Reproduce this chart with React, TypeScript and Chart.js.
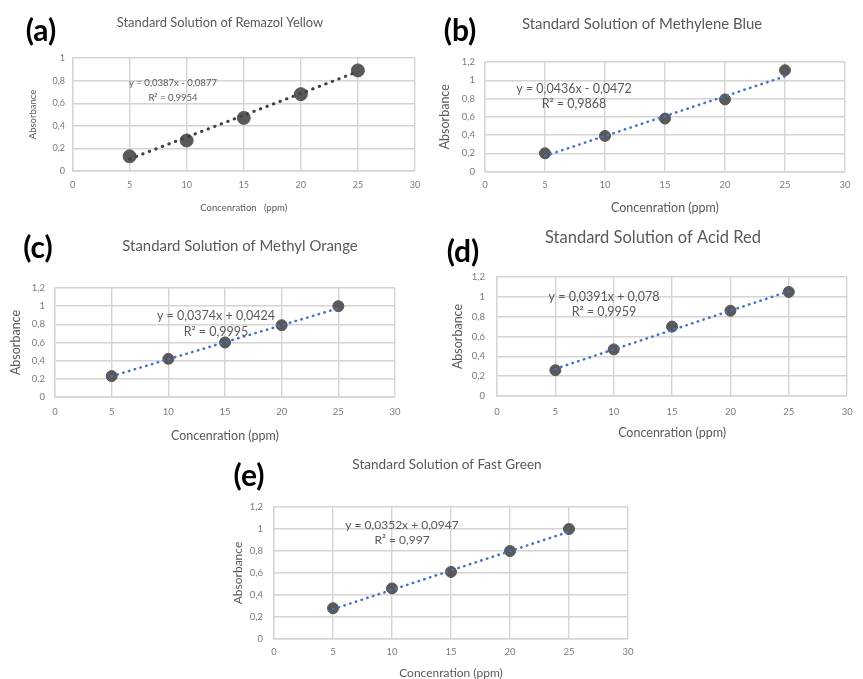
import { useEffect, useRef } from 'react';
import { Chart, registerables } from 'chart.js';

Chart.register(...registerables);

// ---------- data ----------
const CONCENTRATION = [5, 10, 15, 20, 25];
const X_TICKS = [0, 5, 10, 15, 20, 25, 30];
const Y_TICKS_10 = [0, 0.2, 0.4, 0.6, 0.8, 1];
const Y_TICKS_12 = [0, 0.2, 0.4, 0.6, 0.8, 1, 1.2];

const ABS_REMAZOL_YELLOW = [0.13, 0.27, 0.47, 0.68, 0.89];
const ABS_METHYLENE_BLUE = [0.2, 0.39, 0.58, 0.79, 1.11];
const ABS_METHYL_ORANGE = [0.23, 0.42, 0.6, 0.79, 1.0];
const ABS_ACID_RED = [0.26, 0.47, 0.7, 0.86, 1.05];
const ABS_FAST_GREEN = [0.28, 0.46, 0.61, 0.8, 1.0];

// trend line end values (at 5 ppm and 25 ppm)
const TREND_X = [5, 25];
const TREND_REMAZOL_YELLOW = [0.106, 0.88];
const TREND_METHYLENE_BLUE = [0.171, 1.043];
const TREND_METHYL_ORANGE = [0.229, 0.977];
const TREND_ACID_RED = [0.274, 1.056];
const TREND_FAST_GREEN = [0.271, 0.975];

const LABELS = ['(a)', '(b)', '(c)', '(d)', '(e)'];
const TITLES = [
  'Standard Solution of Remazol Yellow',
  'Standard Solution of Methylene Blue',
  'Standard Solution of Methyl Orange',
  'Standard Solution of Acid Red',
  'Standard Solution of Fast Green',
];
const EQUATIONS = [
  'y = 0,0387x - 0,0877',
  'y = 0,0436x - 0,0472',
  'y = 0,0374x + 0,0424',
  'y = 0,0391x + 0,078',
  'y = 0,0352x + 0,0947',
];
const R_SQUARED = ['R² = 0,9954', 'R² = 0,9868', 'R² = 0,9995', 'R² = 0,9959', 'R² = 0,997'];
const X_TITLES = ['Concenration   (ppm)', 'Concenration (ppm)', 'Concenration (ppm)', 'Concenration (ppm)', 'Concenration (ppm)'];
const Y_TITLE = 'Absorbance';

// ---------- styles / layout ----------
const W = 863;
const H = 679;
const FONT = 'Lato, "Open Sans", sans-serif';
const GRID = '#d4d4d4';
const TEXT = '#595959';
const TICK_TEXT = '#7a7a7a';
const POINT = '#595959';

type Layout = {
  L: number; T: number; R: number; B: number;
  labelX: number; labelY: number; labelSize: number;
  titleX: number; titleY: number; titleSize: number;
  tickSize: number; yTickRight: number; xTickY: number;
  axisTitleSize: number; xTitleY: number; yTitleX: number;
  eqX: number; eqY: number; r2Y: number; eqSize: number;
  pointR: number; trendColor: string; trendWidth: number; dash: number[];
};

const LAYOUTS: Layout[] = [
  { L: 72.5, T: 58, R: 415, B: 171, labelX: 41, labelY: 31, labelSize: 30, titleX: 220, titleY: 23, titleSize: 12.9,
    tickSize: 9, yTickRight: 65, xTickY: 185, axisTitleSize: 9.5, xTitleY: 208, yTitleX: 33,
    eqX: 173, eqY: 83, r2Y: 98, eqSize: 9.5, pointR: 6.5, trendColor: '#404040', trendWidth: 3, dash: [0.5, 6.5] },
  { L: 485, T: 62, R: 845, B: 171.5, labelX: 460, labelY: 31, labelSize: 30, titleX: 642, titleY: 24, titleSize: 14.9,
    tickSize: 9.5, yTickRight: 475, xTickY: 185, axisTitleSize: 12.5, xTitleY: 208, yTitleX: 445,
    eqX: 574, eqY: 89, r2Y: 104, eqSize: 12.5, pointR: 5.5, trendColor: '#4472c4', trendWidth: 2.5, dash: [0.5, 5.5] },
  { L: 55, T: 288, R: 395, B: 397, labelX: 38, labelY: 248, labelSize: 30, titleX: 240, titleY: 246, titleSize: 14.9,
    tickSize: 9.5, yTickRight: 45, xTickY: 412, axisTitleSize: 12.5, xTitleY: 436, yTitleX: 16,
    eqX: 216, eqY: 316, r2Y: 332, eqSize: 12.5, pointR: 5.5, trendColor: '#4472c4', trendWidth: 2.5, dash: [0.5, 5.5] },
  { L: 497, T: 277, R: 855, B: 396, labelX: 463, labelY: 252, labelSize: 30, titleX: 653, titleY: 238, titleSize: 16.5,
    tickSize: 9.5, yTickRight: 485, xTickY: 412, axisTitleSize: 12.5, xTitleY: 433, yTitleX: 458,
    eqX: 604, eqY: 297, r2Y: 312, eqSize: 12.5, pointR: 5.5, trendColor: '#4472c4', trendWidth: 2.5, dash: [0.5, 5.5] },
  { L: 274, T: 507, R: 628, B: 639, labelX: 249, labelY: 476, labelSize: 30, titleX: 447, titleY: 465, titleSize: 13.6,
    tickSize: 9.5, yTickRight: 263, xTickY: 652, axisTitleSize: 12, xTitleY: 673, yTitleX: 238,
    eqX: 402, eqY: 525, r2Y: 540, eqSize: 12, pointR: 5.5, trendColor: '#4472c4', trendWidth: 2.5, dash: [0.5, 5.5] },
];

const SERIES = [ABS_REMAZOL_YELLOW, ABS_METHYLENE_BLUE, ABS_METHYL_ORANGE, ABS_ACID_RED, ABS_FAST_GREEN];
const TRENDS = [TREND_REMAZOL_YELLOW, TREND_METHYLENE_BLUE, TREND_METHYL_ORANGE, TREND_ACID_RED, TREND_FAST_GREEN];
const Y_TICK_SETS = [Y_TICKS_10, Y_TICKS_12, Y_TICKS_12, Y_TICKS_12, Y_TICKS_12];

const fmt = (v: number) => String(Math.round(v * 10) / 10).replace('.', ',');

function Panel({ index }: { index: number }) {
  const ref = useRef<HTMLCanvasElement | null>(null);
  useEffect(() => {
    const lay = LAYOUTS[index];
    const yTicks = Y_TICK_SETS[index];
    const tickLH = lay.tickSize * 1.2;
    const axLH = lay.axisTitleSize * 1.2;
    const yW = lay.L - lay.yTitleX + axLH / 2;
    const xH = lay.xTitleY - lay.B + axLH / 2;
    const xTickPad = lay.xTickY - lay.B - tickLH / 2;
    const yTickPad = lay.L - lay.yTickRight;

    const textPlugin = {
      id: 'panelText' + index,
      afterDraw(chart: any) {
        const ctx = chart.ctx as CanvasRenderingContext2D;
        ctx.save();
        ctx.textAlign = 'center';
        ctx.textBaseline = 'middle';
        ctx.fillStyle = '#000';
        ctx.font = `bold ${lay.labelSize}px ${FONT}`;
        ctx.fillText(LABELS[index], lay.labelX, lay.labelY);
        ctx.fillStyle = TEXT;
        ctx.font = `${lay.titleSize}px ${FONT}`;
        ctx.fillText(TITLES[index], lay.titleX, lay.titleY);
        ctx.font = `${lay.eqSize}px ${FONT}`;
        ctx.fillText(EQUATIONS[index], lay.eqX, lay.eqY);
        ctx.fillText(R_SQUARED[index], lay.eqX, lay.r2Y);
        ctx.restore();
      },
    };

    const chart = new Chart(ref.current as HTMLCanvasElement, {
      type: 'scatter',
      data: {
        datasets: [
          {
            type: 'line',
            data: TREND_X.map((x, i) => ({ x, y: TRENDS[index][i] })),
            borderColor: lay.trendColor,
            borderWidth: lay.trendWidth,
            borderDash: lay.dash,
            borderCapStyle: 'round',
            pointRadius: 0,
            fill: false,
          } as any,
          {
            data: CONCENTRATION.map((x, i) => ({ x, y: SERIES[index][i] })),
            backgroundColor: POINT,
            borderColor: POINT,
            pointRadius: lay.pointR,
            pointHoverRadius: lay.pointR,
            showLine: false,
          },
        ],
      },
      options: {
        animation: false,
        responsive: false,
        maintainAspectRatio: false,
        events: [],
        layout: {
          padding: { left: lay.L - yW, top: lay.T, right: W - lay.R, bottom: H - lay.B - xH },
        },
        plugins: {
          legend: { display: false },
          tooltip: { enabled: false },
          title: { display: false },
        },
        scales: {
          x: {
            type: 'linear',
            min: 0,
            max: 30,
            afterBuildTicks: (s: any) => { s.ticks = X_TICKS.map((v) => ({ value: v })); },
            afterFit: (s: any) => { s.height = xH; },
            grid: { color: GRID, lineWidth: 1.4, drawTicks: false },
            border: { color: GRID, width: 1.4 },
            ticks: { padding: xTickPad, color: TICK_TEXT, font: { family: FONT, size: lay.tickSize }, callback: (v: any) => fmt(Number(v)), maxRotation: 0, autoSkip: false },
            title: { display: true, text: X_TITLES[index], color: TEXT, font: { family: FONT, size: lay.axisTitleSize }, padding: 0 },
          },
          y: {
            type: 'linear',
            min: 0,
            max: yTicks[yTicks.length - 1],
            afterBuildTicks: (s: any) => { s.ticks = yTicks.map((v) => ({ value: v })); },
            afterFit: (s: any) => { s.width = yW; },
            grid: { color: GRID, lineWidth: 1.4, drawTicks: false },
            border: { color: GRID, width: 1.4 },
            ticks: { padding: yTickPad, color: TICK_TEXT, font: { family: FONT, size: lay.tickSize }, callback: (v: any) => fmt(Number(v)), autoSkip: false },
            title: { display: true, text: Y_TITLE, color: TEXT, font: { family: FONT, size: lay.axisTitleSize }, padding: 0 },
          },
        },
      } as any,
      plugins: [textPlugin],
    });
    return () => chart.destroy();
  }, [index]);
  return (
    <canvas
      ref={ref}
      width={W}
      height={H}
      style={{ position: 'absolute', left: 0, top: 0, width: W, height: H }}
    />
  );
}

export default function App() {
  return (
    <div style={{ position: 'fixed', left: 0, top: 0, width: W, height: H, background: '#fff', overflow: 'hidden' }}>
      {LABELS.map((_, i) => (
        <Panel key={i} index={i} />
      ))}
    </div>
  );
}
